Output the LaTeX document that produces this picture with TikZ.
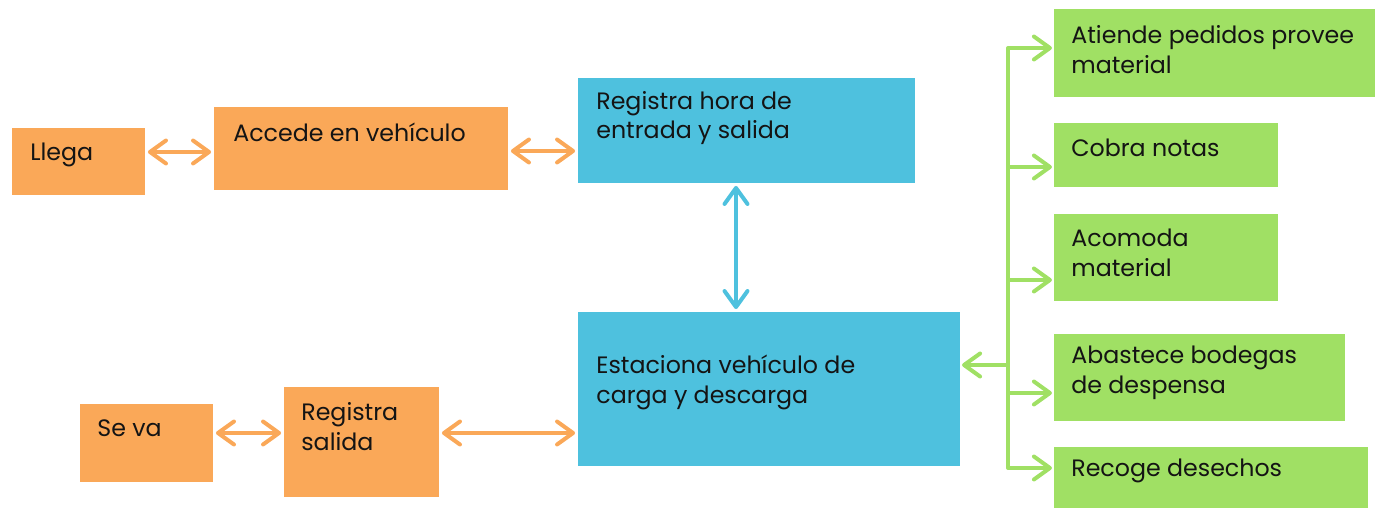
\documentclass[tikz,border=0pt]{standalone}
\usepackage{fontspec}
\setmainfont{Poppins}
\usetikzlibrary{positioning,arrows.meta,calc}
\definecolor{fcOrange}{HTML}{FAA858}
\definecolor{fcBlue}{HTML}{4EC1DE}
\definecolor{fcGreen}{HTML}{A0E064}
\definecolor{fcInk}{HTML}{141414}
\tikzset{
  boxo/.style={fill=fcOrange, draw=none, inner sep=0pt},
  boxb/.style={fill=fcBlue, draw=none, inner sep=0pt},
  boxg/.style={fill=fcGreen, draw=none, inner sep=0pt},
  lbl/.style={anchor=west, align=left, inner sep=0pt, text=fcInk, font=\fontsize{13.5}{17}\selectfont},
  barb/.tip={Straight Barb[length=3.2mm, width=4.6mm, round]},
  arro/.style={barb-barb, line width=0.08cm, fcOrange, shorten <=1.5pt, shorten >=1.5pt},
  arrb/.style={barb-barb, line width=0.08cm, fcBlue, shorten <=1.5pt, shorten >=1.5pt},
  arrg/.style={-barb, line width=0.08cm, fcGreen, shorten >=1pt},
  lineg/.style={line width=0.08cm, fcGreen, line cap=round},
}
\begin{document}
\begin{tikzpicture}[x=0.02cm, y=-0.02cm]
  \useasboundingbox (0,0) rectangle (1375,509);
  % left chain
  \node[boxo, minimum width=2.66cm, minimum height=1.34cm] (llega) at (78.5,161.5) {};
  \node[boxo, minimum width=5.88cm, minimum height=1.66cm] (accede) at (361,148.5) {};
  \node[boxb, minimum width=6.74cm, minimum height=2.10cm] (reghora) at (746.5,130.5) {};
  \node[boxb, minimum width=7.64cm, minimum height=3.08cm] (estaciona) at (769,389) {};
  \node[boxo, minimum width=2.66cm, minimum height=1.56cm] (seva) at (146.5,443) {};
  \node[boxo, minimum width=3.10cm, minimum height=2.20cm] (regsal) at (361.5,442) {};
  \node[lbl] at (30,155) {Llega};
  \node[lbl] at (233,132) {Accede en vehículo};
  \node[lbl] at (596,118) {Registra hora de\\entrada y salida};
  \node[lbl] at (596,382) {Estaciona vehículo de\\carga y descarga};
  \node[lbl] at (97,428) {Se va};
  \node[lbl] at (301,426.5) {Registra\\salida};
  % tasks
  \node[boxg, minimum width=6.42cm, minimum height=1.76cm] (atiende) at (1214.5,53) {};
  \node[boxg, minimum width=4.48cm, minimum height=1.28cm] (cobra) at (1166,155) {};
  \node[boxg, minimum width=4.48cm, minimum height=1.74cm] (acomoda) at (1166,257.5) {};
  \node[boxg, minimum width=5.82cm, minimum height=1.74cm] (abastece) at (1199.5,377.5) {};
  \node[boxg, minimum width=6.28cm, minimum height=1.22cm] (recoge) at (1211,477.5) {};
  \node[lbl] at (1071,49.5) {Atiende pedidos provee\\material};
  \node[lbl] at (1071,148) {Cobra notas};
  \node[lbl] at (1071,253) {Acomoda\\material};
  \node[lbl] at (1071,373) {Abastece bodegas\\de despensa};
  \node[lbl] at (1071,471) {Recoge desechos};
  % connectors
  \coordinate (r1) at (0,152);
  \coordinate (r2) at (0,151);
  \coordinate (r3) at (0,433);
  \coordinate (vx) at (736,0);
  \draw[arro] (llega.east |- r1) -- (accede.west |- r1);
  \draw[arro] (accede.east |- r2) -- (reghora.west |- r2);
  \draw[arrb] (reghora.south -| vx) -- (estaciona.north -| vx);
  \draw[arro] (seva.east |- r3) -- (regsal.west |- r3);
  \draw[arro] (regsal.east |- r3) -- (estaciona.west |- r3);
  \coordinate (b1) at (1008,48);
  \coordinate (b2) at (1008,167);
  \coordinate (b3) at (1008,280);
  \coordinate (b4) at (1008,393);
  \coordinate (b5) at (1008,468);
  \coordinate (bm) at (1008,365);
  \draw[lineg] (b1) -- (b5);
  \draw[arrg] (b1) -- (b1 -| atiende.west);
  \draw[arrg] (b2) -- (b2 -| cobra.west);
  \draw[arrg] (b3) -- (b3 -| acomoda.west);
  \draw[arrg] (b4) -- (b4 -| abastece.west);
  \draw[arrg] (b5) -- (b5 -| recoge.west);
  \draw[arrg] (bm) -- (bm -| estaciona.east);
\end{tikzpicture}
\end{document}
